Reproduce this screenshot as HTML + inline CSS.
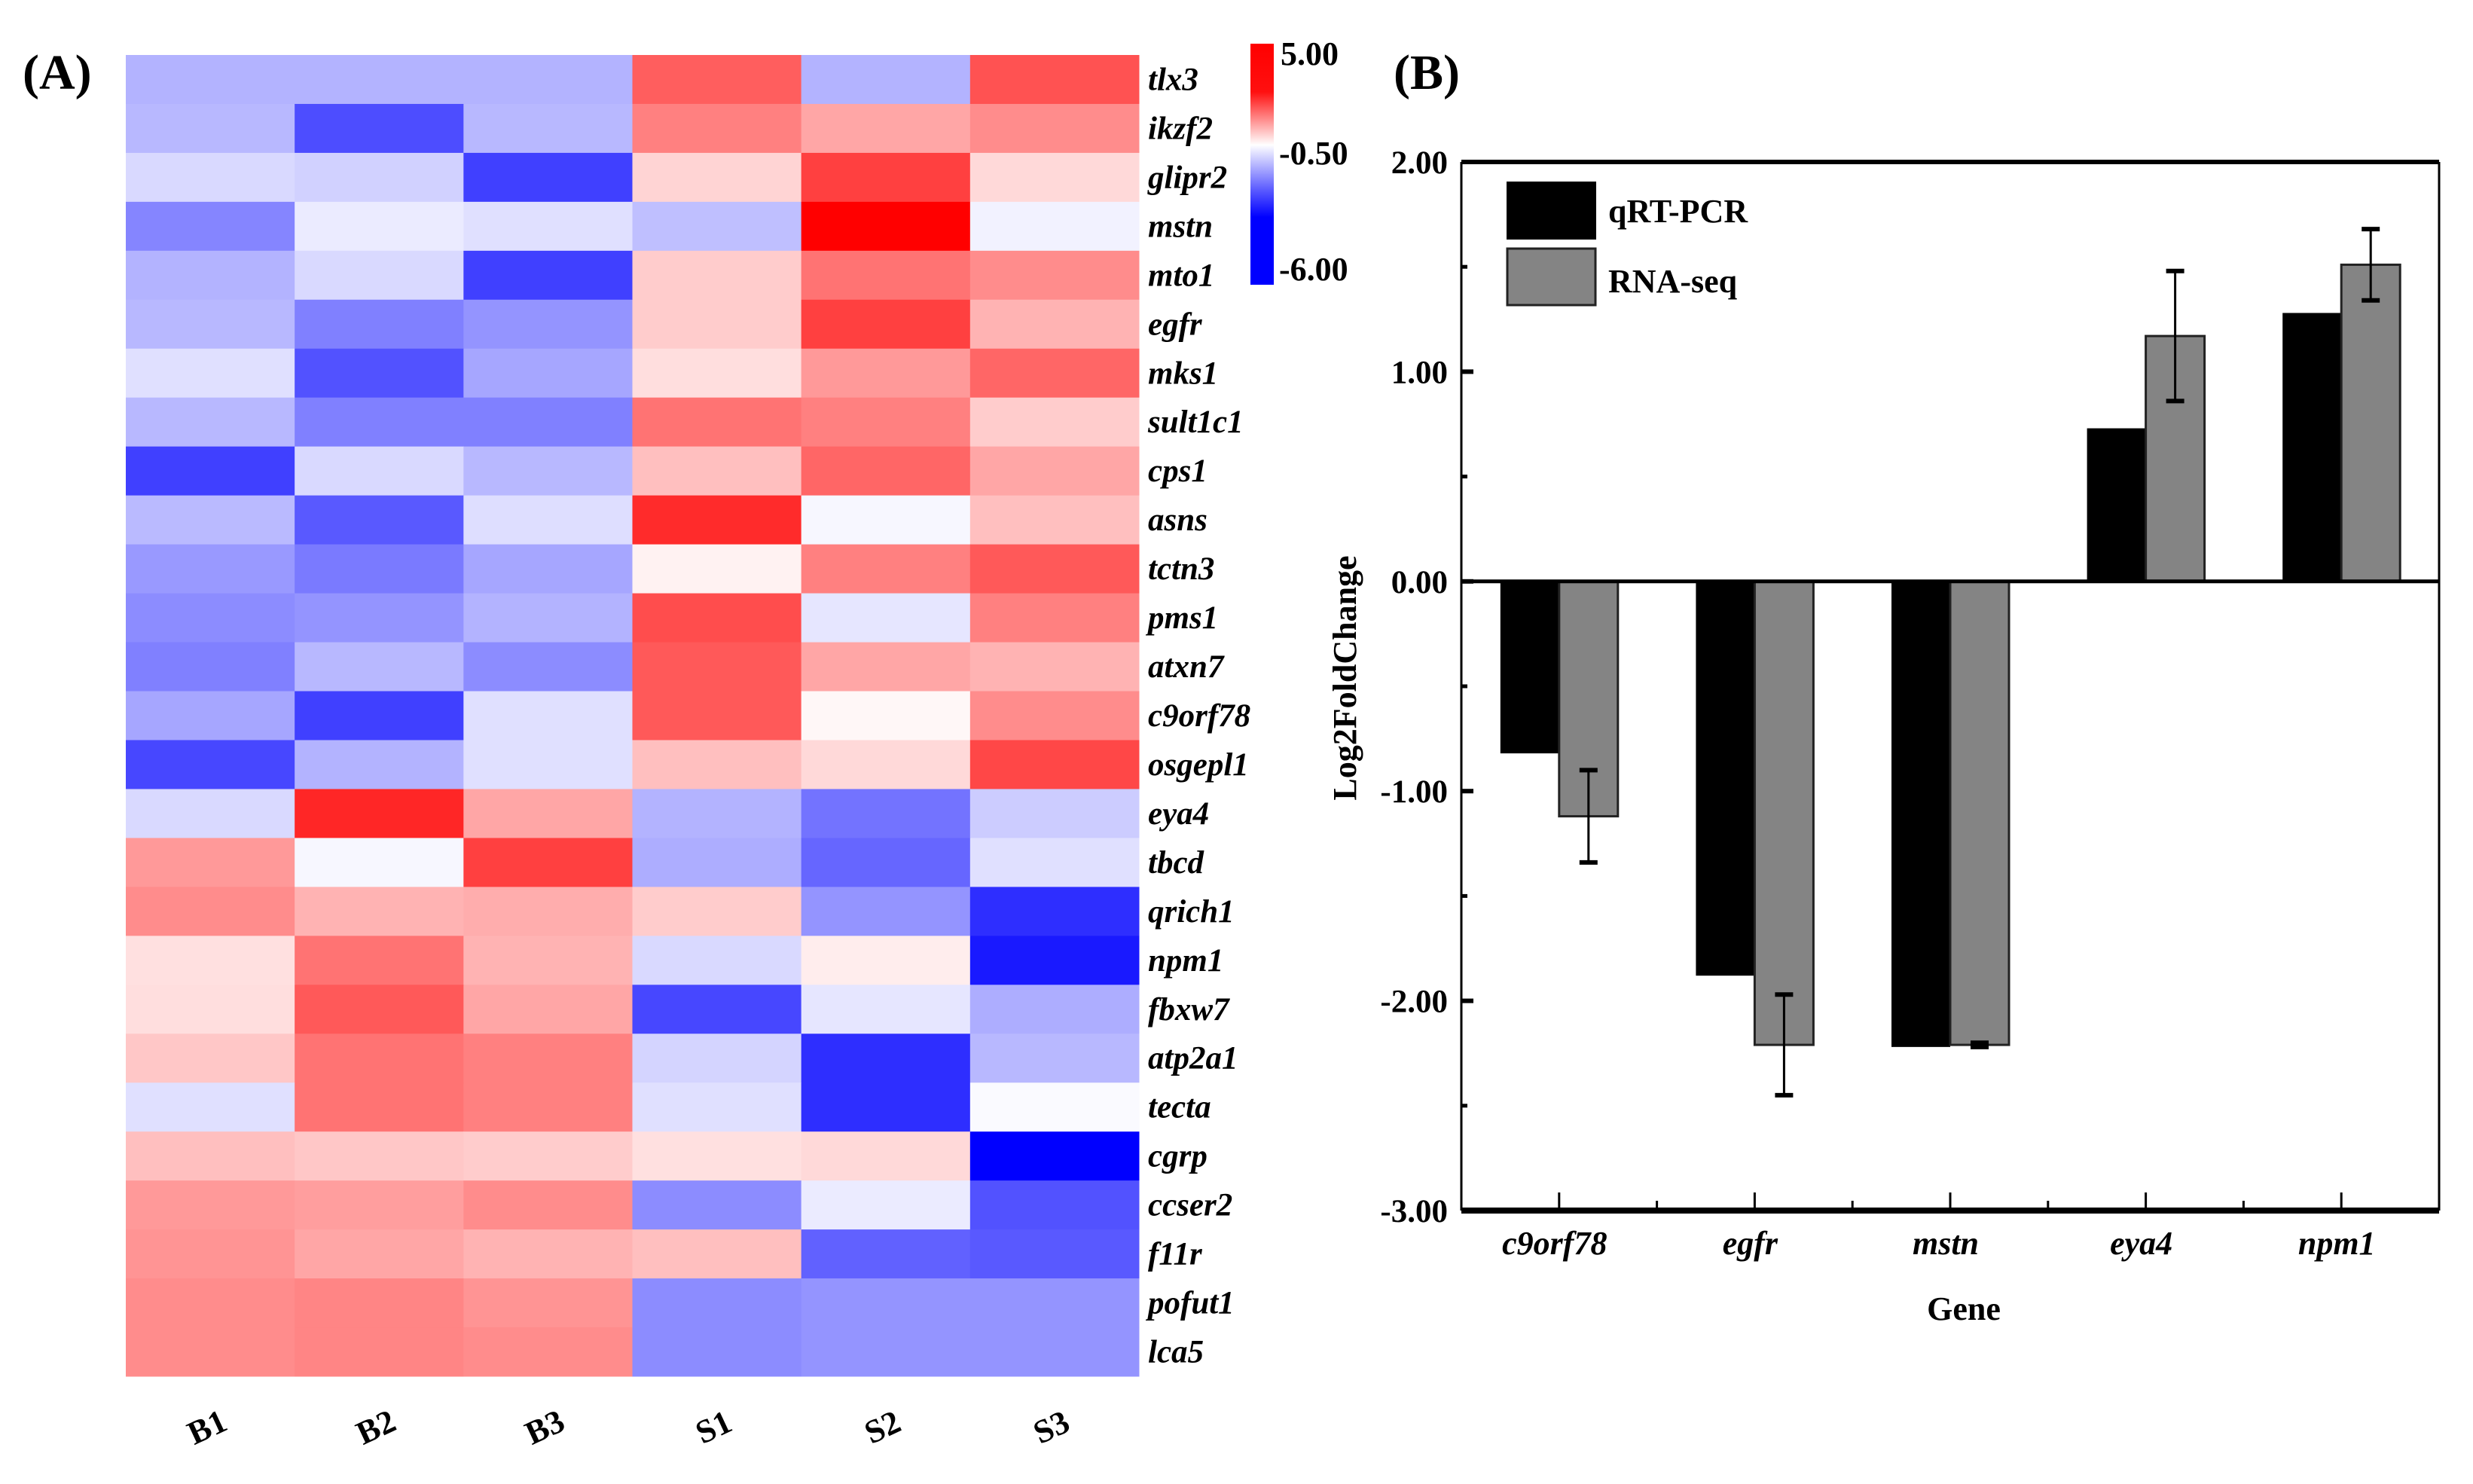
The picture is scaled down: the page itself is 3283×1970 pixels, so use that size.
<!DOCTYPE html>
<html><head><meta charset="utf-8"><style>
html,body{margin:0;padding:0;background:#fff;}
svg{display:block;font-family:"Liberation Serif",serif;}
</style></head><body>
<svg id="fig" width="3283" height="1970" viewBox="0 0 3283 1970" xmlns="http://www.w3.org/2000/svg">
<defs>
<linearGradient id="cbar" x1="0" y1="0" x2="0" y2="1">
<stop offset="0" stop-color="#ff0000"/><stop offset="0.2" stop-color="#ff1010"/><stop offset="0.42" stop-color="#ffffff"/><stop offset="0.6" stop-color="#6060ff"/><stop offset="0.72" stop-color="#0000ff"/><stop offset="1" stop-color="#0000ff"/>
</linearGradient>
</defs>
<text x="30" y="118" font-size="66" font-weight="bold">(A)</text>
<text x="1850" y="118" font-size="66" font-weight="bold">(B)</text>
<g id="heat"></g>
<g id="heatlabels"></g>
<g id="heatx"></g>
<g>
<rect x="1660" y="58" width="31" height="320" fill="url(#cbar)"/>
<text x="1700" y="86" font-size="44" font-weight="bold">5.00</text>
<text x="1698" y="218" font-size="44" font-weight="bold">-0.50</text>
<text x="1698" y="372" font-size="44" font-weight="bold">-6.00</text>
</g>
<g id="bars"></g>
</svg>
<script>
const NS="http://www.w3.org/2000/svg";
// ---- Heatmap data ----
const samples=["B1","B2","B3","S1","S2","S3"];
const genes=["tlx3","ikzf2","glipr2","mstn","mto1","egfr","mks1","sult1c1","cps1","asns","tctn3","pms1","atxn7","c9orf78","osgepl1","eya4","tbcd","qrich1","npm1","fbxw7","atp2a1","tecta","cgrp","ccser2","f11r","pofut1","lca5"];
const heatValues=[
[-0.3,-0.3,-0.3,0.63,-0.3,0.68],
[-0.28,-0.7,-0.28,0.5,0.35,0.45],
[-0.15,-0.18,-0.75,0.17,0.75,0.15],
[-0.48,-0.08,-0.12,-0.25,1.0,-0.05],
[-0.3,-0.15,-0.75,0.2,0.55,0.45],
[-0.28,-0.5,-0.42,0.2,0.75,0.3],
[-0.12,-0.68,-0.35,0.13,0.4,0.6],
[-0.28,-0.5,-0.5,0.55,0.5,0.2],
[-0.75,-0.15,-0.28,0.25,0.6,0.35],
[-0.27,-0.65,-0.13,0.83,-0.03,0.25],
[-0.4,-0.52,-0.35,0.05,0.5,0.65],
[-0.45,-0.42,-0.3,0.7,-0.1,0.5],
[-0.5,-0.28,-0.45,0.65,0.35,0.3],
[-0.35,-0.75,-0.12,0.65,0.03,0.45],
[-0.72,-0.3,-0.12,0.25,0.15,0.72],
[-0.15,0.85,0.35,-0.3,-0.55,-0.2],
[0.4,-0.03,0.75,-0.32,-0.6,-0.12],
[0.45,0.3,0.32,0.2,-0.42,-0.82],
[0.12,0.55,0.3,-0.15,0.07,-0.9],
[0.13,0.65,0.35,-0.72,-0.1,-0.32],
[0.22,0.55,0.5,-0.17,-0.82,-0.28],
[-0.12,0.55,0.5,-0.12,-0.82,-0.02],
[0.25,0.22,0.2,0.12,0.15,-1.0],
[0.4,0.38,0.45,-0.45,-0.08,-0.68],
[0.42,0.35,0.3,0.25,-0.62,-0.65],
[0.45,0.48,0.42,-0.45,-0.42,-0.42],
[0.45,0.48,0.45,-0.45,-0.42,-0.42]];
// ---- Bar chart data ----
const barGenes=["c9orf78","egfr","mstn","eya4","npm1"];
const qpcrValues=[-0.82,-1.88,-2.22,0.73,1.28];
const rnaseqValues=[-1.12,-2.21,-2.21,1.17,1.51];
const rnaseqErrors=[0.22,0.24,0.01,0.31,0.17];
const yTicks=[2,1,0,-1,-2,-3];
const yTickLabels=["2.00","1.00","0.00","-1.00","-2.00","-3.00"];

function mk(tag,attrs,parent,text){const e=document.createElementNS(NS,tag);for(const k in attrs)e.setAttribute(k,attrs[k]);if(text!==undefined)e.textContent=text;parent.appendChild(e);return e;}
function color(t){t=Math.max(-1,Math.min(1,t));if(t>=0){const g=Math.round(255*(1-t));return `rgb(255,${g},${g})`;}const r=Math.round(255*(1+t));return `rgb(${r},${r},255)`;}

// heatmap axes
const hx0=167,hx1=1512,hy0=73,hy1=1827;
const cw=(hx1-hx0)/samples.length,rh=(hy1-hy0)/genes.length;
const colX=i=>hx0+i*cw, rowY=j=>hy0+j*rh;
const heat=document.getElementById('heat');
heatValues.forEach((row,j)=>row.forEach((v,i)=>{
  const r=mk('rect',{x:colX(i),y:rowY(j),width:cw+0.5,height:rh+0.5,fill:color(v)},heat);
  
  
}));
const hl=document.getElementById('heatlabels');
genes.forEach((g,j)=>{
  const t=mk('text',{x:1524,y:rowY(j)+rh/2+14,'font-size':43,'font-weight':'bold','font-style':'italic'},hl,g);
  
  
});
const hxl=document.getElementById('heatx');
samples.forEach((s,i)=>{
  const cx=colX(i)+cw/2-4,cy=1895;
  const t=mk('text',{x:cx,y:cy+14,'font-size':44,'font-weight':'bold','text-anchor':'middle',transform:`rotate(-25 ${cx} ${cy})`},hxl,s);
  
  
});

// bar chart
const bx0=1940,bx1=3238,by0=215,by1=1607;
const yMax=2,yMin=-3;
const yS=v=>by0+(yMax-v)/(yMax-yMin)*(by1-by0);
const band=(bx1-bx0)/barGenes.length;
const xC=i=>bx0+band*(i+0.5);
const bw=78;
const bars=document.getElementById('bars');
// bars
barGenes.forEach((g,i)=>{
  const c=xC(i);
  const q=qpcrValues[i], r=rnaseqValues[i];
  const b1=mk('rect',{x:c-bw,y:Math.min(yS(0),yS(q)),width:bw,height:Math.abs(yS(q)-yS(0)),fill:'#000'},bars);
  
  
  const b2=mk('rect',{x:c,y:Math.min(yS(0),yS(r)),width:bw,height:Math.abs(yS(r)-yS(0)),fill:'#848484',stroke:'#222','stroke-width':3},bars);
  
  
  const ex=c+bw/2, e=rnaseqErrors[i];
  const eg=mk('g',{stroke:'#000','stroke-width':3},bars);
  
  
  mk('line',{x1:ex,x2:ex,y1:yS(r+e),y2:yS(r-e)},eg);
  mk('line',{x1:ex-12,x2:ex+12,y1:yS(r+e),y2:yS(r+e),'stroke-width':6},eg);
  mk('line',{x1:ex-12,x2:ex+12,y1:yS(r-e),y2:yS(r-e),'stroke-width':6},eg);
});
// frame
const fr=mk('g',{stroke:'#000',fill:'none'},bars);


mk('line',{x1:bx0,x2:bx1,y1:by0,y2:by0,'stroke-width':6},fr);
mk('line',{x1:bx0,x2:bx1,y1:by1,y2:by1,'stroke-width':8},fr);
mk('line',{x1:bx0,x2:bx0,y1:by0,y2:by1,'stroke-width':3},fr);
mk('line',{x1:bx1,x2:bx1,y1:by0,y2:by1,'stroke-width':3},fr);
const zl=mk('line',{x1:bx0,x2:bx1,y1:yS(0),y2:yS(0),stroke:'#000','stroke-width':5},bars);


// y ticks
yTicks.forEach((v,k)=>{
  mk('line',{x1:bx0,x2:bx0+16,y1:yS(v),y2:yS(v),stroke:'#000','stroke-width':6},bars);
  if(k<yTicks.length-1) mk('line',{x1:bx0,x2:bx0+8,y1:yS(v-0.5),y2:yS(v-0.5),stroke:'#000','stroke-width':5},bars);
  const t=mk('text',{x:1922,y:yS(v)+15,'font-size':43,'font-weight':'bold','text-anchor':'end'},bars,yTickLabels[k]);
  
  
});
// x ticks & labels
barGenes.forEach((g,i)=>{
  mk('line',{x1:xC(i),x2:xC(i),y1:by1,y2:by1-24,stroke:'#000','stroke-width':3},bars);
  if(i<barGenes.length-1) mk('line',{x1:xC(i)+band/2,x2:xC(i)+band/2,y1:by1,y2:by1-13,stroke:'#000','stroke-width':3},bars);
  const t=mk('text',{x:xC(i)-6,y:1665,'font-size':44,'font-weight':'bold','font-style':'italic','text-anchor':'middle'},bars,g);
  
  
});
const xt=mk('text',{x:2607,y:1752,'font-size':44,'font-weight':'bold','text-anchor':'middle'},bars,'Gene');


const yt=mk('text',{x:1800,y:900,'font-size':44,'font-weight':'bold','text-anchor':'middle',transform:'rotate(-90 1800 900)'},bars,'Log2FoldChange');


// legend
const lg=mk('g',{},bars);


const l1=mk('rect',{x:2000,y:241,width:119,height:77,fill:'#000'},lg);


const l2=mk('rect',{x:2001,y:330,width:117,height:75,fill:'#848484',stroke:'#222','stroke-width':3},lg);


const lt1=mk('text',{x:2135,y:295,'font-size':44,'font-weight':'bold'},lg,'qRT-PCR');


const lt2=mk('text',{x:2135,y:388,'font-size':44,'font-weight':'bold'},lg,'RNA-seq');


</script>
</body></html>
